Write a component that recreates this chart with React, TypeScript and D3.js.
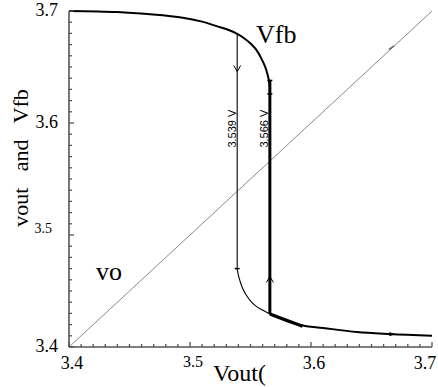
import React from "react";
import * as d3 from "d3";

// Hysteresis sweep of the comparator feedback node against the output voltage
const topBranchX = [3.4, 3.44, 3.467, 3.494, 3.51, 3.522, 3.532, 3.539, 3.545, 3.5505, 3.555, 3.559, 3.562, 3.5643, 3.5655, 3.566];
const topBranchY = [3.7, 3.699, 3.697, 3.694, 3.6905, 3.6865, 3.683, 3.6795, 3.6755, 3.6705, 3.665, 3.6575, 3.6505, 3.6425, 3.6365, 3.632];

const lowerLeftX = [3.539, 3.5398, 3.5413, 3.5438, 3.547, 3.5505, 3.5545, 3.559, 3.566];
const lowerLeftY = [3.47, 3.465, 3.459, 3.4515, 3.4455, 3.4405, 3.4365, 3.4335, 3.4295];

const lowerRightX = [3.566, 3.5826, 3.591, 3.61, 3.638, 3.665, 3.7];
const lowerRightY = [3.4295, 3.4223, 3.4196, 3.417, 3.4134, 3.4116, 3.41];

const voX = [3.4, 3.7];
const voY = [3.4, 3.7];

const switchLow = 3.539;
const switchHigh = 3.566;
const switchLowTop = 3.6795;
const switchLowBottom = 3.47;
const switchHighTop = 3.638;
const switchHighBottom = 3.4295;

const xTickLabels = ["3.4", "3.5", "3.6", "3.7"];
const yTickLabels = ["3.4", "3.5", "3.6", "3.7"];

const W = 438;
const H = 387;

export default function App() {
  const x = d3.scaleLinear().domain([3.4, 3.7]).range([69, 432]);
  const y = d3.scaleLinear().domain([3.4, 3.7]).range([347, 11]);

  const smooth = d3
    .line<[number, number]>()
    .x((d) => x(d[0]))
    .y((d) => y(d[1]))
    .curve(d3.curveCatmullRom.alpha(0.5));
  const monotone = d3
    .line<[number, number]>()
    .x((d) => x(d[0]))
    .y((d) => y(d[1]))
    .curve(d3.curveMonotoneX);
  const straight = d3
    .line<[number, number]>()
    .x((d) => x(d[0]))
    .y((d) => y(d[1]));

  const zip = (a: number[], b: number[]) => a.map((v, i) => [v, b[i]] as [number, number]);

  const minor = d3.range(0, 31).map((i) => 3.4 + i * 0.01);
  const axisColor = "#555";
  const serif = "'Liberation Serif', 'Times New Roman', serif";
  const sans = "'Liberation Sans', Arial, sans-serif";

  const x0 = x(3.4);
  const y0 = y(3.4);

  const downArrowY = y(3.646);
  const upArrowY = y(3.463);
  const voMark = 3.667;

  return (
    <svg
      width={W}
      height={H}
      style={{ position: "absolute", left: 0, top: 0, background: "#fff" }}
    >
      {/* diagonal reference vo = Vout */}
      <path d={straight(zip(voX, voY)) || ""} stroke="#8a8a8a" strokeWidth={1} fill="none" />
      <path
        d={`M${x(voMark) - 3},${y(voMark) + 1.5} L${x(voMark) + 2},${y(voMark) - 2}`}
        stroke="#666"
        strokeWidth={1.5}
      />

      {/* upper branch */}
      <path d={smooth(zip(topBranchX, topBranchY)) || ""} stroke="#000" strokeWidth={2} fill="none" />
      {/* lower branch, left of the upper trip point */}
      <path d={smooth(zip(lowerLeftX, lowerLeftY)) || ""} stroke="#000" strokeWidth={1.1} fill="none" />
      {/* lower branch, right of the upper trip point */}
      <path d={monotone(zip(lowerRightX, lowerRightY)) || ""} stroke="#000" strokeWidth={2} fill="none" />
      <path
        d={`M${x(3.566)},${y(3.4295)} L${x(3.593)},${y(3.4185)}`}
        stroke="#000"
        strokeWidth={3.2}
        fill="none"
      />

      {/* switching transitions */}
      <line
        x1={x(switchLow)}
        x2={x(switchLow)}
        y1={y(switchLowTop)}
        y2={y(switchLowBottom)}
        stroke="#000"
        strokeWidth={1.1}
      />
      <line
        x1={x(switchHigh)}
        x2={x(switchHigh)}
        y1={y(switchHighTop)}
        y2={y(switchHighBottom)}
        stroke="#000"
        strokeWidth={3}
      />

      {/* direction arrows */}
      <path
        d={`M${x(switchLow) - 3.5},${downArrowY - 6} L${x(switchLow)},${downArrowY} L${x(switchLow) + 3.5},${downArrowY - 6}`}
        stroke="#000"
        strokeWidth={1}
        fill="none"
      />
      <path
        d={`M${x(switchHigh) - 3.5},${upArrowY + 6} L${x(switchHigh)},${upArrowY} L${x(switchHigh) + 3.5},${upArrowY + 6}`}
        stroke="#000"
        strokeWidth={1}
        fill="none"
      />

      {/* point markers */}
      <line x1={x(switchHigh) - 2.5} x2={x(switchHigh) + 2.5} y1={y(3.638)} y2={y(3.638)} stroke="#000" strokeWidth={1.5} />
      <line x1={x(switchHigh) - 2.5} x2={x(switchHigh) + 2.5} y1={y(3.626)} y2={y(3.626)} stroke="#000" strokeWidth={1.5} />
      <line x1={x(switchLow) - 2.5} x2={x(switchLow) + 2.5} y1={y(switchLowBottom)} y2={y(switchLowBottom)} stroke="#000" strokeWidth={1.5} />
      <path
        d={`M${x(3.668) - 4},${y(3.4115) - 2} L${x(3.668) + 2},${y(3.4114)} L${x(3.668) - 4},${y(3.4113) + 2}Z`}
        fill="#000"
      />

      {/* value annotations */}
      <text
        transform={`translate(${x(switchLow) - 1.5},${y(3.595)}) rotate(-90)`}
        textAnchor="middle"
        fontFamily={sans}
        fontSize={11}
        fill="#000"
      >
        {`${switchLow.toFixed(3)} V`}
      </text>
      <text
        transform={`translate(${x(switchHigh) - 2},${y(3.595)}) rotate(-90)`}
        textAnchor="middle"
        fontFamily={sans}
        fontSize={11}
        fill="#000"
      >
        {`${switchHigh.toFixed(3)} V`}
      </text>

      {/* curve labels */}
      <text x={256} y={43} fontFamily={serif} fontSize={26} fill="#000">
        Vfb
      </text>
      <text x={96} y={280} fontFamily={serif} fontSize={26} fill="#000">
        vo
      </text>

      {/* axes */}
      <line x1={x0} x2={x0} y1={y(3.7)} y2={y0} stroke={axisColor} strokeWidth={1.6} />
      <line x1={x0} x2={x(3.7)} y1={y0} y2={y0} stroke={axisColor} strokeWidth={1.6} />
      {minor.map((v, i) => {
        const len = i % 10 === 0 ? 5 : 3;
        return (
          <g key={i}>
            <line x1={x(v)} x2={x(v)} y1={y0} y2={y0 - len} stroke={axisColor} strokeWidth={1.3} />
            <line x1={x0} x2={x0 + len} y1={y(v)} y2={y(v)} stroke={axisColor} strokeWidth={1.3} />
          </g>
        );
      })}

      {/* y tick labels */}
      {yTickLabels.map((t) => {
        const v = +t;
        const small = t === "3.5";
        return (
          <text
            key={"y" + t}
            x={small ? 52 : 58}
            y={y(v) + (small ? -2 : 5)}
            textAnchor="end"
            fontFamily={serif}
            fontSize={small ? 14 : 18}
            fill="#000"
          >
            {t}
          </text>
        );
      })}

      {/* x tick labels */}
      {xTickLabels.map((t) => {
        const v = +t;
        const small = t === "3.5";
        const cx = t === "3.7" ? x(v) - 7 : x(v) + 3;
        return (
          <text
            key={"x" + t}
            x={cx}
            y={small ? 367 : 369}
            textAnchor="middle"
            fontFamily={serif}
            fontSize={small ? 16 : 18}
            fill="#000"
          >
            {t}
          </text>
        );
      })}

      {/* axis titles */}
      <text x={213} y={381} fontFamily={serif} fontSize={24} fill="#000">
        Vout(
      </text>
      <text
        transform={`translate(28,158) rotate(-90)`}
        textAnchor="middle"
        fontFamily={serif}
        fontSize={22}
        fill="#000"
        style={{ whiteSpace: "pre" }}
      >
        {"vout   and   Vfb"}
      </text>
    </svg>
  );
}
